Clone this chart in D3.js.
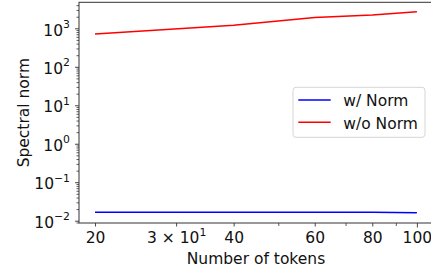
<!DOCTYPE html>
<html>
<head>
<meta charset="utf-8">
<script src="https://cdn.jsdelivr.net/npm/d3@7"></script>
<style>
  body { margin: 0; background: #fff; }
  svg { display: block; font-family: "DejaVu Sans", sans-serif; }
</style>
</head>
<body>
<svg width="431" height="273"></svg>
<script>
// data
const tokens = [20, 40, 60, 80, 100];
const withNorm = [0.0165, 0.0165, 0.0165, 0.0166, 0.0162];
const withoutNorm = [711, 1197, 1905, 2213, 2698];
const seriesNames = ["w/ Norm", "w/o Norm"];
const seriesColors = ["blue", "red"];

const xMajor = [100];
const xLabeled = [20, 30, 40, 60, 80, 100];
const xLabels = ["20", "3 × 10^1", "40", "60", "80", "100"];
const xMinor = [50, 70, 90];
const yMajor = [1e-2, 1e-1, 1e0, 1e1, 1e2, 1e3];

const svg = d3.select("svg");
const plotL = 79, plotR = 433, plotT = 2.3, plotB = 223;
const fs = 15.5;

const x = d3.scaleLog()
  .domain([20 / Math.pow(10, 0.0348), 100 * Math.pow(10, 0.035)])
  .range([plotL, plotR]);

const y = d3.scaleLog()
  .domain([Math.pow(10, -2.06), Math.pow(10, 3.676)])
  .range([plotB, plotT]);

// text with a ^superscript
function richText(sel, str) {
  const parts = str.split("^");
  sel.text(null);
  sel.append("tspan").attr("xml:space", "preserve").text(parts[0]);
  if (parts.length > 1) {
    sel.append("tspan")
      .attr("font-size", fs * 0.7)
      .attr("dy", -7.5)
      .text(parts[1]);
  }
}

// y minor ticks
const yMinor = [];
for (let e = -3; e <= 3; e++) {
  for (let m = 2; m <= 9; m++) {
    const v = m * Math.pow(10, e);
    if (v > y.domain()[0] && v < y.domain()[1]) yMinor.push(v);
  }
}

svg.append("g")
  .attr("transform", `translate(${plotL},0)`)
  .call(d3.axisLeft(y).tickValues(yMinor).tickSize(2.5).tickFormat(""))
  .call(g => g.select(".domain").remove())
  .selectAll("line").attr("stroke", "#333").attr("stroke-width", 0.8);

const expText = d => {
  const e = Math.round(Math.log10(d));
  return "10^" + (e < 0 ? "−" + (-e) : e);
};

const yAxis = svg.append("g")
  .attr("transform", `translate(${plotL},0)`)
  .call(d3.axisLeft(y).tickValues(yMajor).tickSize(4).tickPadding(5).tickFormat(expText));
yAxis.select(".domain").remove();
yAxis.selectAll("line").attr("stroke", "#333").attr("stroke-width", 0.9);
yAxis.selectAll("text")
  .attr("font-size", fs)
  .attr("font-family", "DejaVu Sans")
  .attr("fill", "#111")
  .attr("dy", 6.7)
  .each(function () { richText(d3.select(this), d3.select(this).text()); });

// x ticks
svg.append("g")
  .attr("transform", `translate(0,${plotB})`)
  .call(d3.axisBottom(x).tickValues(xMinor).tickSize(3).tickFormat(""))
  .call(g => g.select(".domain").remove())
  .selectAll("line").attr("stroke", "#333").attr("stroke-width", 0.8);

const xAxis = svg.append("g")
  .attr("transform", `translate(0,${plotB})`)
  .call(d3.axisBottom(x).tickValues(xLabeled)
    .tickSize(3.5).tickPadding(5)
    .tickFormat((d, i) => xLabels[i]));
xAxis.select(".domain").remove();
xAxis.selectAll("line")
  .attr("y2", d => xMajor.includes(d) ? 4.5 : 3.5)
  .attr("stroke", "#333").attr("stroke-width", 0.9);
xAxis.selectAll("text")
  .attr("font-size", fs)
  .attr("font-family", "DejaVu Sans")
  .attr("fill", "#111")
  .attr("y", 0)
  .attr("dy", 20.3)
  .each(function () { richText(d3.select(this), d3.select(this).text()); });

// lines
const line = d3.line().x(d => x(d[0])).y(d => y(d[1]));
[withNorm, withoutNorm].forEach((vals, i) => {
  svg.append("path")
    .datum(tokens.map((t, j) => [t, vals[j]]))
    .attr("fill", "none")
    .attr("stroke", seriesColors[i])
    .attr("stroke-width", 1.5)
    .attr("d", line);
});

// frame
svg.append("rect")
  .attr("x", plotL).attr("y", plotT)
  .attr("width", plotR - plotL).attr("height", plotB - plotT)
  .attr("fill", "none").attr("stroke", "#333").attr("stroke-width", 1);

// axis labels
svg.append("text")
  .attr("x", (plotL + plotR) / 2).attr("y", 263.5)
  .attr("text-anchor", "middle").attr("font-size", fs).attr("fill", "#111")
  .text("Number of tokens");

svg.append("text")
  .attr("transform", `translate(29,${(plotT + plotB) / 2}) rotate(-90)`)
  .attr("text-anchor", "middle").attr("font-size", fs).attr("fill", "#111")
  .text("Spectral norm");

// legend
const lg = svg.append("g").attr("transform", "translate(293,87.3)");
lg.append("rect")
  .attr("width", 132).attr("height", 50).attr("rx", 3)
  .attr("fill", "white").attr("fill-opacity", 0.8)
  .attr("stroke", "#d5d5d5").attr("stroke-width", 1);
seriesNames.forEach((name, i) => {
  const yy = 12.7 + i * 22.3;
  lg.append("line")
    .attr("x1", 5.3).attr("x2", 37.7).attr("y1", yy).attr("y2", yy)
    .attr("stroke", seriesColors[i]).attr("stroke-width", 1.5);
  lg.append("text")
    .attr("x", 50.3).attr("y", yy + 6.5)
    .attr("font-size", fs).attr("fill", "#111")
    .text(name);
});
</script>
</body>
</html>
